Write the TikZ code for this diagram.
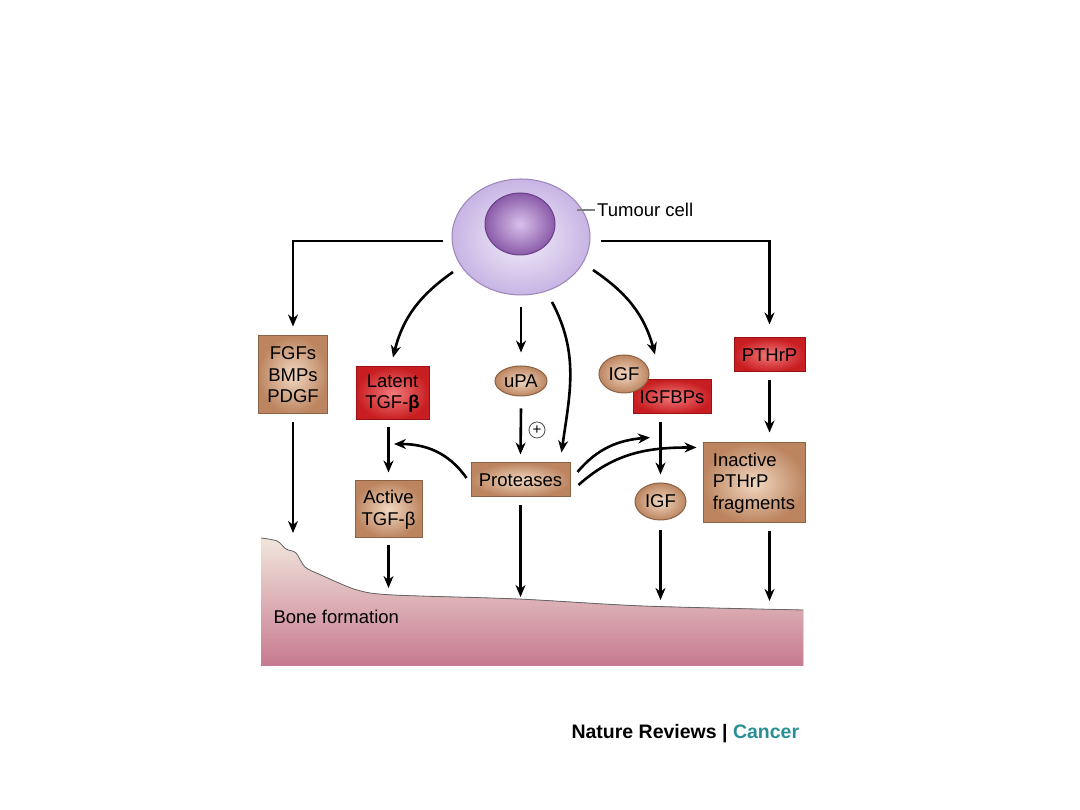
\documentclass[tikz,border=0pt]{standalone}
\usepackage{fontspec}
\setmainfont{Liberation Sans}
\usepackage{tikz}
\usetikzlibrary{arrows.meta,shapes.geometric}

\definecolor{tanfill}{HTML}{BC8560}
\definecolor{tanlight}{HTML}{F2D8C2}
\definecolor{tanedge}{HTML}{8C6244}
\definecolor{redfill}{HTML}{C81E22}
\definecolor{redlight}{HTML}{F27A7A}
\definecolor{rededge}{HTML}{9A1014}
\definecolor{celledge}{HTML}{9A86B8}
\definecolor{cellfill}{HTML}{C7B4E4}
\definecolor{celllight}{HTML}{F3EFFA}
\definecolor{nucedge}{HTML}{6A4088}
\definecolor{nucfill}{HTML}{8A5AA8}
\definecolor{nuclight}{HTML}{D9C2EC}
\definecolor{bonetop}{HTML}{F1E6DC}
\definecolor{bonemid}{HTML}{DFB9BC}
\definecolor{bonebot}{HTML}{C77990}
\definecolor{cancerteal}{HTML}{2A8F94}

\tikzset{
  arr/.style={line width=2.6pt, -{Stealth[length=12pt,width=10pt]}},
  tanbox/.style={draw=tanedge, line width=1pt, inner color=tanlight, outer color=tanfill, align=center, inner sep=0pt},
  redbox/.style={draw=rededge, line width=1pt, inner color=redlight, outer color=redfill, align=center, inner sep=0pt},
  tanoval/.style={tanbox, ellipse},
}

\begin{document}
\begin{tikzpicture}[x=1pt,y=1pt,font=\fontsize{18.5}{21.5}\selectfont]
\useasboundingbox[fill=white] (0,0) rectangle (1080,810);

\fill[top color=bonetop, middle color=bonemid, bottom color=bonebot]
  plot[smooth, tension=0.5] coordinates {(261,272) (277,269) (286,261) (296,257) (305,243) (321,235) (357,220) (393,215) (518,211) (643,204) (803,200)}
  -- (803,144) -- (261,144) -- cycle;
\draw[black!60, line width=0.8pt] plot[smooth, tension=0.5] coordinates {(261,272) (277,269) (286,261) (296,257) (305,243) (321,235) (357,220) (393,215) (518,211) (643,204) (803,200)};
\node[anchor=west] (bone) at (270,193) {Bone formation};
\coordinate (bfgf) at (293,277);
\coordinate (bactive) at (388.5,222);
\coordinate (bprot) at (520.5,213);
\coordinate (bigf) at (660.5,210);
\coordinate (binact) at (769.5,209);

\node[ellipse, draw=celledge, line width=1pt, inner color=celllight, outer color=cellfill, minimum width=138pt, minimum height=116pt] (cell) at (521,573) {};
\node[ellipse, draw=nucedge, line width=1pt, inner color=nuclight, outer color=nucfill, minimum width=70pt, minimum height=62pt] (nucleus) at (520,586) {};
\node[anchor=west, inner sep=0pt] (tlabel) at (597,600) {Tumour cell};
\draw[black!50, line width=1.2pt] ([xshift=-2pt]tlabel.west) -- ([xshift=-20pt]tlabel.west);

\node[tanbox, minimum width=69pt, minimum height=78pt] (fgf) at (293,435) {FGFs\\BMPs\\PDGF};
\node[redbox, minimum width=73pt, minimum height=53pt] (latent) at (392.5,416.5) {Latent\\TGF-\textbf{β}};
\node[tanbox, minimum width=67pt, minimum height=57pt] (active) at (388.5,300.5) {Active\\TGF-β};
\node[tanoval, minimum width=52pt, minimum height=30pt] (upa) at (521,429) {uPA};
\node[circle, draw=black!70, line width=0.8pt, minimum size=16pt, inner sep=0pt, font=\fontsize{15}{15}\selectfont] (plus) at (537,380) {\raisebox{0.5pt}{+}};
\node[tanbox, minimum width=99pt, minimum height=34pt] (prot) at (520.5,330) {Proteases};
\node[redbox, minimum width=78pt, minimum height=34pt] (igfbp) at (672,413) {IGFBPs};
\node[tanoval, minimum width=50pt, minimum height=38pt] (igf) at (624,436) {IGF};
\node[tanoval, minimum width=51pt, minimum height=37pt] (igf2) at (660.5,308.5) {IGF};
\node[redbox, minimum width=71pt, minimum height=34pt] (pthrp) at (769.5,455) {PTHrP};
\node[tanbox, align=left, minimum width=102pt, minimum height=80pt] (inact) at (754,327) {Inactive\\PTHrP\\fragments};

\draw[arr] ([shift={(-78,-4)}]cell.center) -| ([yshift=9pt]fgf.north);
\draw[arr] ([shift={(80,-4)}]cell.center) -| ([yshift=13pt]pthrp.north);
\draw[arr] ([shift={(-68,-35)}]cell.center) to[out=215,in=76] ([shift={(0.5,9)}]latent.north);
\draw[arr] ([yshift=-12pt]cell.south) -- ([yshift=13pt]upa.north);
\draw[arr] ([shift={(31,-65)}]cell.center) to[out=-62,in=82] ([shift={(-9,10)}]prot.north east);
\draw[arr] ([shift={(72,-33)}]cell.center) to[out=-34,in=105] ([shift={(-17,25)}]igfbp.north);

\draw[arr] ([yshift=-12pt]upa.south) -- ([yshift=8pt]prot.north);
\draw[arr] ([yshift=-7pt]latent.south -| active.north) -- ([yshift=8pt]active.north);
\draw[arr] ([shift={(-4,2)}]prot.west) to[out=125,in=0] ([shift={(1.5,-23.5)}]latent.south);
\draw[arr] ([shift={(7,8)}]prot.east) to[out=50,in=185] ([shift={(-22,-23)}]igfbp.south);
\draw[arr] ([shift={(8,-5)}]prot.east) to[out=42,in=180] ([shift={(-6,-5)}]inact.north west);
\draw[arr] ([yshift=-8pt]igfbp.south -| igf2.north) -- ([yshift=8pt]igf2.north);
\draw[arr] ([yshift=-8pt]pthrp.south) -- ([yshift=10pt]inact.north -| pthrp.south);

\draw[arr] ([yshift=-8pt]fgf.south) -- (bfgf);
\draw[arr] ([yshift=-7pt]active.south) -- (bactive);
\draw[arr] ([yshift=-8pt]prot.south) -- (bprot);
\draw[arr] ([yshift=-10pt]igf2.south) -- (bigf);
\draw[arr] ([yshift=-8pt]inact.south -| pthrp.south) -- (binact);

\node[anchor=west, font=\bfseries\fontsize{19.5}{22}\selectfont] (credit) at (568,76) {Nature Reviews | \textcolor{cancerteal}{Cancer}};
\end{tikzpicture}
\end{document}
